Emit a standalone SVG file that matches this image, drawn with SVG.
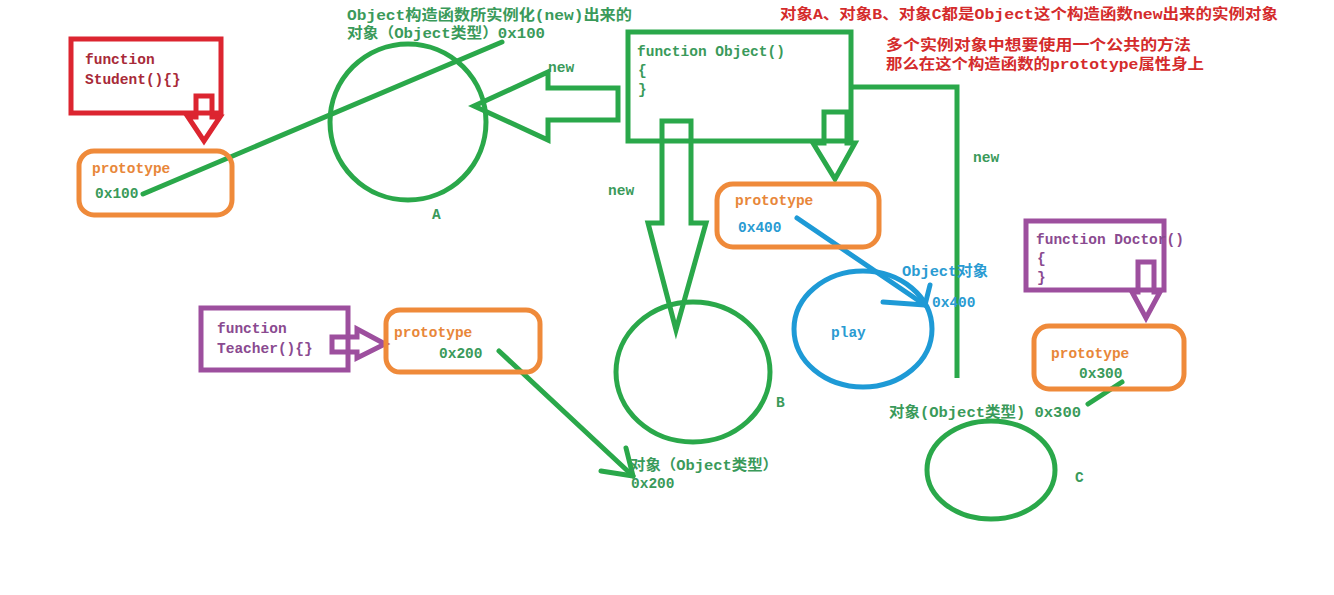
<svg xmlns="http://www.w3.org/2000/svg" width="1334" height="595" viewBox="0 0 1334 595">
<style>
text{font-family:"Liberation Mono","Noto Sans CJK SC",monospace;font-size:14.5px;font-weight:bold}
.g{fill:#3a9a5a}.o{fill:#e8873a}.r{fill:#a82a38}.rt{fill:#d42b2b}.b{fill:#2a9bd2}.p{fill:#8a4a90}
.sg{fill:none;stroke:#2aa84a;stroke-width:5}
.so{fill:none;stroke:#ef8a3a;stroke-width:5}
.sr{fill:none;stroke:#dc2530;stroke-width:5}
.sp{fill:none;stroke:#9d4f9e;stroke-width:5}
.sb{fill:none;stroke:#1e9ad6;stroke-width:5}
.ln{stroke-linecap:round;stroke-linejoin:round}
</style>
<rect width="1334" height="595" fill="#fff"/>

<g id="connectors">
  <polygon class="sr" points="196,96 212,96 212,117 220,117 204,141 188,117 196,117"/>
  <line class="sg ln" x1="143" y1="194" x2="502" y2="42" stroke-width="4.5"/>
  <polygon class="sg" points="618,88 548,88 548,72 474,106 548,140 548,120 618,120"/>
  <polygon class="sg" points="662,121 691,121 691,223 706,223 676,330 648,223 662,223"/>
  <polygon class="sg" points="824,112 847,112 847,143 855,143 835,179 813,143 824,143"/>
  <polyline class="sg" points="852,87 957,87 957,378" stroke-width="4.5"/>
  <line class="sb ln" x1="797" y1="218" x2="925" y2="305" stroke-width="5"/>
  <polyline class="sb ln" points="930,285 925,305 883,302" stroke-width="4.5"/>
  <polygon class="sp" points="332,337 357,337 357,329 385,344 357,358 357,352 332,352"/>
  <line class="sg ln" x1="499" y1="351" x2="633" y2="476" stroke-width="4.5"/>
  <polyline class="sg ln" points="626,448 633,476 601,471" stroke-width="4.5"/>
  <polygon class="sp" points="1138,262 1154,262 1154,292 1160,292 1146,318 1132,292 1138,292"/>
  <line class="sg ln" x1="1122" y1="382" x2="1088" y2="404" stroke-width="4.5"/>
  <text x="548" y="72" class="g">new</text>
  <text x="608" y="195" class="g">new</text>
  <text x="973" y="162" class="g">new</text>
</g>

<g id="notes">
  <text x="780" y="19" class="rt" textLength="498" lengthAdjust="spacingAndGlyphs">对象A、对象B、对象C都是Object这个构造函数new出来的实例对象</text>
  <text x="886" y="50" class="rt" textLength="305" lengthAdjust="spacingAndGlyphs">多个实例对象中想要使用一个公共的方法</text>
  <text x="886" y="69" class="rt" textLength="318" lengthAdjust="spacingAndGlyphs">那么在这个构造函数的prototype属性身上</text>
</g>

<g id="student">
  <rect x="71" y="39" width="150" height="74" class="sr"/>
  <text x="85" y="64" class="r">function</text>
  <text x="85" y="84" class="r">Student(){}</text>
</g>

<g id="proto100">
  <rect x="79" y="151" width="153" height="64" rx="15" class="so"/>
  <text x="92" y="173" class="o">prototype</text>
  <text x="95" y="198" class="g">0x100</text>
</g>

<g id="objA">
  <ellipse cx="408" cy="122" rx="78" ry="78" class="sg"/>
  <text x="347" y="20" class="g" textLength="285" lengthAdjust="spacingAndGlyphs">Object构造函数所实例化(new)出来的</text>
  <text x="347" y="38" class="g" textLength="198" lengthAdjust="spacingAndGlyphs">对象（Object类型）0x100</text>
  <text x="432" y="219" class="g">A</text>
</g>

<g id="objectCtor">
  <rect x="628" y="32" width="223" height="109" class="sg"/>
  <text x="637" y="56" class="g">function Object()</text>
  <text x="638" y="75" class="g">{</text>
  <text x="638" y="94" class="g">}</text>
</g>

<g id="proto400">
  <rect x="717" y="184" width="162" height="63" rx="16" class="so"/>
  <text x="735" y="205" class="o">prototype</text>
  <text x="738" y="232" class="b">0x400</text>
</g>

<g id="playObj">
  <ellipse cx="863" cy="329" rx="69" ry="58" class="sb"/>
  <text x="831" y="337" class="b">play</text>
  <text x="902" y="276" class="b" textLength="86" lengthAdjust="spacingAndGlyphs">Object对象</text>
  <text x="932" y="307" class="b">0x400</text>
</g>

<g id="objB">
  <ellipse cx="693" cy="372" rx="77" ry="70" class="sg"/>
  <text x="776" y="407" class="g">B</text>
  <text x="630" y="470" class="g" textLength="148" lengthAdjust="spacingAndGlyphs">对象（Object类型）</text>
  <text x="631" y="488" class="g">0x200</text>
</g>

<g id="teacher">
  <rect x="201" y="308" width="147" height="62" class="sp"/>
  <text x="217" y="333" class="p">function</text>
  <text x="217" y="353" class="p">Teacher(){}</text>
</g>

<g id="proto200">
  <rect x="386" y="310" width="154" height="62" rx="14" class="so"/>
  <text x="394" y="337" class="o">prototype</text>
  <text x="439" y="358" class="g">0x200</text>
</g>

<g id="doctor">
  <rect x="1026" y="221" width="138" height="69" class="sp"/>
  <text x="1036" y="244" class="p">function Doctor()</text>
  <text x="1037" y="263" class="p">{</text>
  <text x="1037" y="282" class="p">}</text>
</g>

<g id="proto300">
  <rect x="1034" y="326" width="150" height="63" rx="15" class="so"/>
  <text x="1051" y="358" class="o">prototype</text>
  <text x="1079" y="378" class="g">0x300</text>
</g>

<g id="objC">
  <ellipse cx="991" cy="470" rx="64" ry="49" class="sg"/>
  <text x="889" y="417" class="g" textLength="192" lengthAdjust="spacingAndGlyphs">对象(Object类型) 0x300</text>
  <text x="1075" y="482" class="g">C</text>
</g>
</svg>
